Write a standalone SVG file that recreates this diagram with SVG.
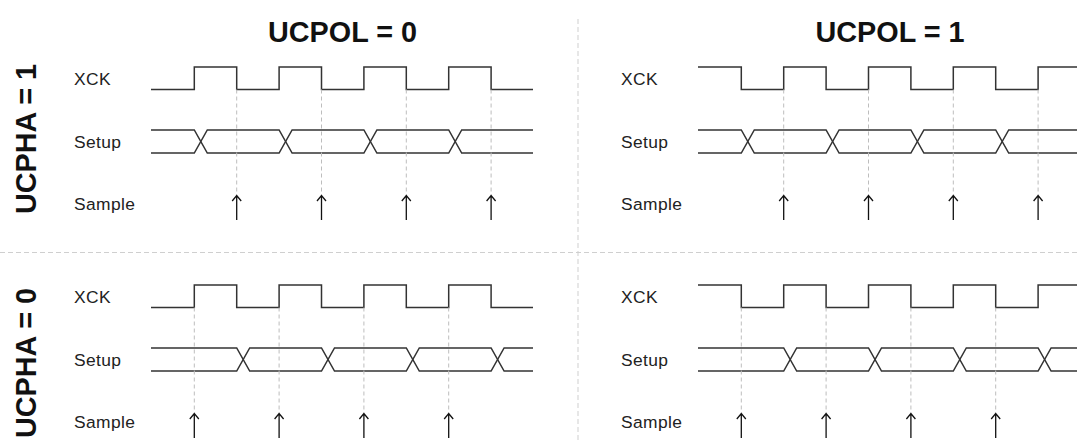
<svg xmlns="http://www.w3.org/2000/svg" width="1077" height="441" viewBox="0 0 1077 441">
  <style>
    .title { font-family: "Liberation Sans", Arial, sans-serif; font-size: 28.8px; font-weight: bold; fill: #111; }
    .lbl { font-family: "Liberation Sans", Arial, sans-serif; font-size: 17.4px; letter-spacing: 0.4px; fill: #222; }
    .sig { fill: none; stroke: #333; stroke-width: 1.5; }
    .guide { fill: none; stroke: #bdbdbd; stroke-width: 1; stroke-dasharray: 4 3; }
    .divider { fill: none; stroke: #cfcfcf; stroke-width: 1; stroke-dasharray: 5 3; }
    .arrow { fill: none; stroke: #111; stroke-width: 1.3; }
  </style>
  <defs>
    <path id="arr" class="arrow" d="M0 25 V0.5 M-4.5 6 L0 0.5 L4.5 6"/>
  </defs>
  <rect width="1077" height="441" fill="#ffffff"/>

  <g id="dividers">
    <path class="divider" d="M578 19 V441"/>
    <path class="divider" d="M0 252.5 H1077"/>
  </g>

  <g id="titles">
    <text class="title" x="342.5" y="41.7" text-anchor="middle">UCPOL = 0</text>
    <text class="title" x="890" y="41.7" text-anchor="middle">UCPOL = 1</text>
    <text class="title" text-anchor="middle" transform="translate(36,139) rotate(-90)">UCPHA = 1</text>
    <text class="title" text-anchor="middle" transform="translate(36,363) rotate(-90)">UCPHA = 0</text>
  </g>

  <!-- UCPHA = 1, UCPOL = 0 -->
  <g id="panel-pha1-pol0">
    <text class="lbl" x="74" y="85">XCK</text>
    <text class="lbl" x="74" y="147.5">Setup</text>
    <text class="lbl" x="74" y="209.5">Sample</text>
    <path class="sig" d="M151 89.5 H194.3 V67 H236.7 V89.5 H279.1 V67 H321.5 V89.5 H363.9 V67 H406.3 V89.5 H448.7 V67 H491.1 V89.5 H533"/>
    <path class="sig" d="M151 130 H194.3 L207.3 153 H279.1 L292.1 130 H363.9 L376.9 153 H448.7 L461.7 130 H533"/>
    <path class="sig" d="M151 153 H194.3 L207.3 130 H279.1 L292.1 153 H363.9 L376.9 130 H448.7 L461.7 153 H533"/>
  </g>

  <!-- UCPHA = 1, UCPOL = 1 -->
  <g id="panel-pha1-pol1">
    <text class="lbl" x="621" y="85">XCK</text>
    <text class="lbl" x="621" y="147.5">Setup</text>
    <text class="lbl" x="621" y="209.5">Sample</text>
    <path class="sig" d="M698 67 H741.3 V89.5 H783.7 V67 H826.1 V89.5 H868.5 V67 H910.9 V89.5 H953.3 V67 H995.7 V89.5 H1038.1 V67 H1080"/>
    <path class="sig" d="M698 130 H741.3 L754.3 153 H826.1 L839.1 130 H910.9 L923.9 153 H995.7 L1008.7 130 H1080"/>
    <path class="sig" d="M698 153 H741.3 L754.3 130 H826.1 L839.1 153 H910.9 L923.9 130 H995.7 L1008.7 153 H1080"/>
  </g>

  <!-- UCPHA = 0, UCPOL = 0 -->
  <g id="panel-pha0-pol0">
    <text class="lbl" x="74" y="303">XCK</text>
    <text class="lbl" x="74" y="365.5">Setup</text>
    <text class="lbl" x="74" y="427.5">Sample</text>
    <path class="sig" d="M151 307.5 H194.3 V285 H236.7 V307.5 H279.1 V285 H321.5 V307.5 H363.9 V285 H406.3 V307.5 H448.7 V285 H491.1 V307.5 H533"/>
    <path class="sig" d="M151 348 H236.7 L249.7 371 H321.5 L334.5 348 H406.3 L419.3 371 H491.1 L504.1 348 H533"/>
    <path class="sig" d="M151 371 H236.7 L249.7 348 H321.5 L334.5 371 H406.3 L419.3 348 H491.1 L504.1 371 H533"/>
  </g>

  <!-- UCPHA = 0, UCPOL = 1 -->
  <g id="panel-pha0-pol1">
    <text class="lbl" x="621" y="303">XCK</text>
    <text class="lbl" x="621" y="365.5">Setup</text>
    <text class="lbl" x="621" y="427.5">Sample</text>
    <path class="sig" d="M698 285 H741.3 V307.5 H783.7 V285 H826.1 V307.5 H868.5 V285 H910.9 V307.5 H953.3 V285 H995.7 V307.5 H1038.1 V285 H1080"/>
    <path class="sig" d="M698 348 H783.7 L796.7 371 H868.5 L881.5 348 H953.3 L966.3 371 H1038.1 L1051.1 348 H1080"/>
    <path class="sig" d="M698 371 H783.7 L796.7 348 H868.5 L881.5 371 H953.3 L966.3 348 H1038.1 L1051.1 371 H1080"/>
  </g>

  <g id="connectors">
    <!-- sample guides -->
    <path class="guide" d="M236.7 89.5 V195 M321.5 89.5 V195 M406.3 89.5 V195 M491.1 89.5 V195"/>
    <path class="guide" d="M783.7 89.5 V195 M868.5 89.5 V195 M953.3 89.5 V195 M1038.1 89.5 V195"/>
    <path class="guide" d="M194.3 307.5 V413 M279.1 307.5 V413 M363.9 307.5 V413 M448.7 307.5 V413"/>
    <path class="guide" d="M741.3 307.5 V413 M826.1 307.5 V413 M910.9 307.5 V413 M995.7 307.5 V413"/>
    <!-- sample arrows -->
    <use href="#arr" x="236.7" y="195"/>
    <use href="#arr" x="321.5" y="195"/>
    <use href="#arr" x="406.3" y="195"/>
    <use href="#arr" x="491.1" y="195"/>
    <use href="#arr" x="783.7" y="195"/>
    <use href="#arr" x="868.5" y="195"/>
    <use href="#arr" x="953.3" y="195"/>
    <use href="#arr" x="1038.1" y="195"/>
    <use href="#arr" x="194.3" y="413"/>
    <use href="#arr" x="279.1" y="413"/>
    <use href="#arr" x="363.9" y="413"/>
    <use href="#arr" x="448.7" y="413"/>
    <use href="#arr" x="741.3" y="413"/>
    <use href="#arr" x="826.1" y="413"/>
    <use href="#arr" x="910.9" y="413"/>
    <use href="#arr" x="995.7" y="413"/>
  </g>
</svg>
